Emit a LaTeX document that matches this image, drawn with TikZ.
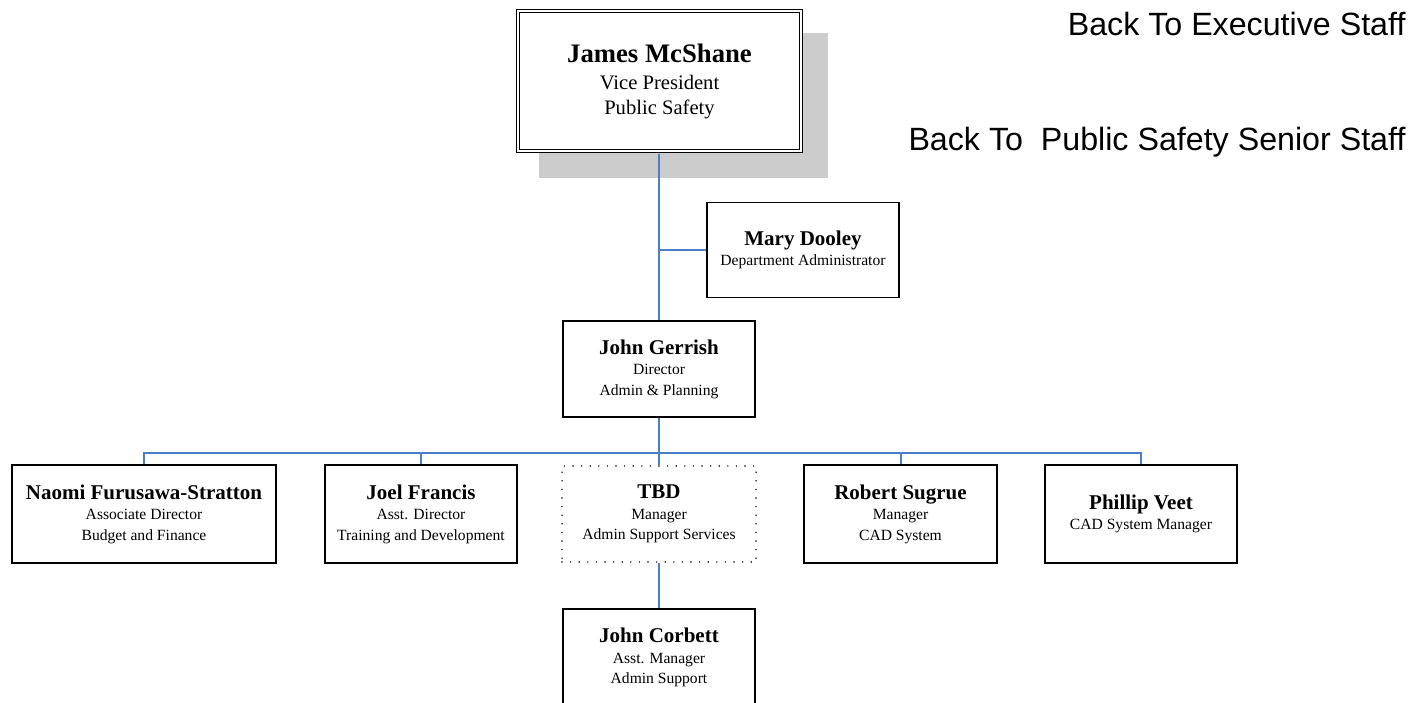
\documentclass[tikz,border=0pt]{standalone}
\usepackage{fontspec}
\setmainfont{Liberation Serif}
\newfontfamily\linkfont{Liberation Sans}
\definecolor{linkblue}{RGB}{74,126,201}
\definecolor{shadowgray}{RGB}{204,204,204}
\newcommand\boxname[1]{{\fontsize{21}{21}\selectfont\bfseries #1}}
\begin{document}
\begin{tikzpicture}[x=1pt,y=-1pt,
  box/.style={draw=black, line width=1.8pt, fill=white, rectangle, inner sep=0pt,
    minimum width=192pt, minimum height=97pt, align=center,
    font=\fontsize{15.6}{20.5}\selectfont},
  topbox/.style={box, draw=black, double=white, double distance=2pt, line width=1.4pt,
    minimum width=283pt, minimum height=140pt, font=\fontsize{20.6}{25}\selectfont},
  dotbox/.style={box, line width=1.6pt, dash pattern=on 0pt off 8.6pt, line cap=round},
  wire/.style={draw=linkblue, line width=2pt},
  linktext/.style={anchor=base east, font=\linkfont\fontsize{32.2}{32.2}\selectfont}]
\useasboundingbox (0,0) rectangle (1416,703);
% shadow behind top box
\fill[shadowgray] (539,33) rectangle (828,178);
% boxes
\node[topbox] (vp) at (659.5,81) {{\fontsize{26.7}{27}\selectfont\bfseries James McShane}\\[2pt]Vice President\\Public Safety};
\node[box, minimum height=95pt] (mary) at (803,250) {\boxname{Mary Dooley}\\Department Administrator};
\node[box, minimum height=96pt] (gerrish) at (659,369) {\boxname{John Gerrish}\\Director\\Admin \& Planning};
\node[box, minimum width=264pt, minimum height=98pt] (naomi) at (144,514) {\boxname{Naomi Furusawa-Stratton}\\Associate Director\\Budget and Finance};
\node[box, minimum height=98pt] (joel) at (421,514) {\boxname{Joel Francis}\\Asst. Director\\Training and Development};
\node[dotbox, minimum width=194pt, minimum height=96pt] (tbd) at (659,514) {\boxname{TBD}\\Manager\\Admin Support Services};
\node[box, minimum width=193pt, minimum height=98pt] (robert) at (900.5,514) {\boxname{Robert Sugrue}\\Manager\\CAD System};
\node[box, minimum height=98pt] (phillip) at (1141,514) {\boxname{Phillip Veet}\\CAD System Manager};
\node[box, minimum height=97pt] (corbett) at (659,657.5) {\boxname{John Corbett}\\Asst. Manager\\Admin Support};
% links text
\node[linktext] (exec) at (1409,35.3) {Back To Executive Staff};
\node[linktext] (senior) at (1409,150.5) {Back To\ \ Public Safety Senior Staff};
% connectors
\coordinate (bus) at (659,453);
\coordinate (vpfoot) at (659,154);
\draw[wire] (vpfoot) -- (gerrish.north);
\draw[wire] (mary.west) -- (mary.west -| vpfoot);
\draw[wire] (naomi.north) |- (bus) -| (phillip.north);
\draw[wire] (joel.north) -- (joel.north |- bus);
\draw[wire] (robert.north) -- (robert.north |- bus);
\draw[wire] (gerrish.south) -- (tbd.north);
\draw[wire] (tbd.south) -- (corbett.north);
\end{tikzpicture}
\end{document}
